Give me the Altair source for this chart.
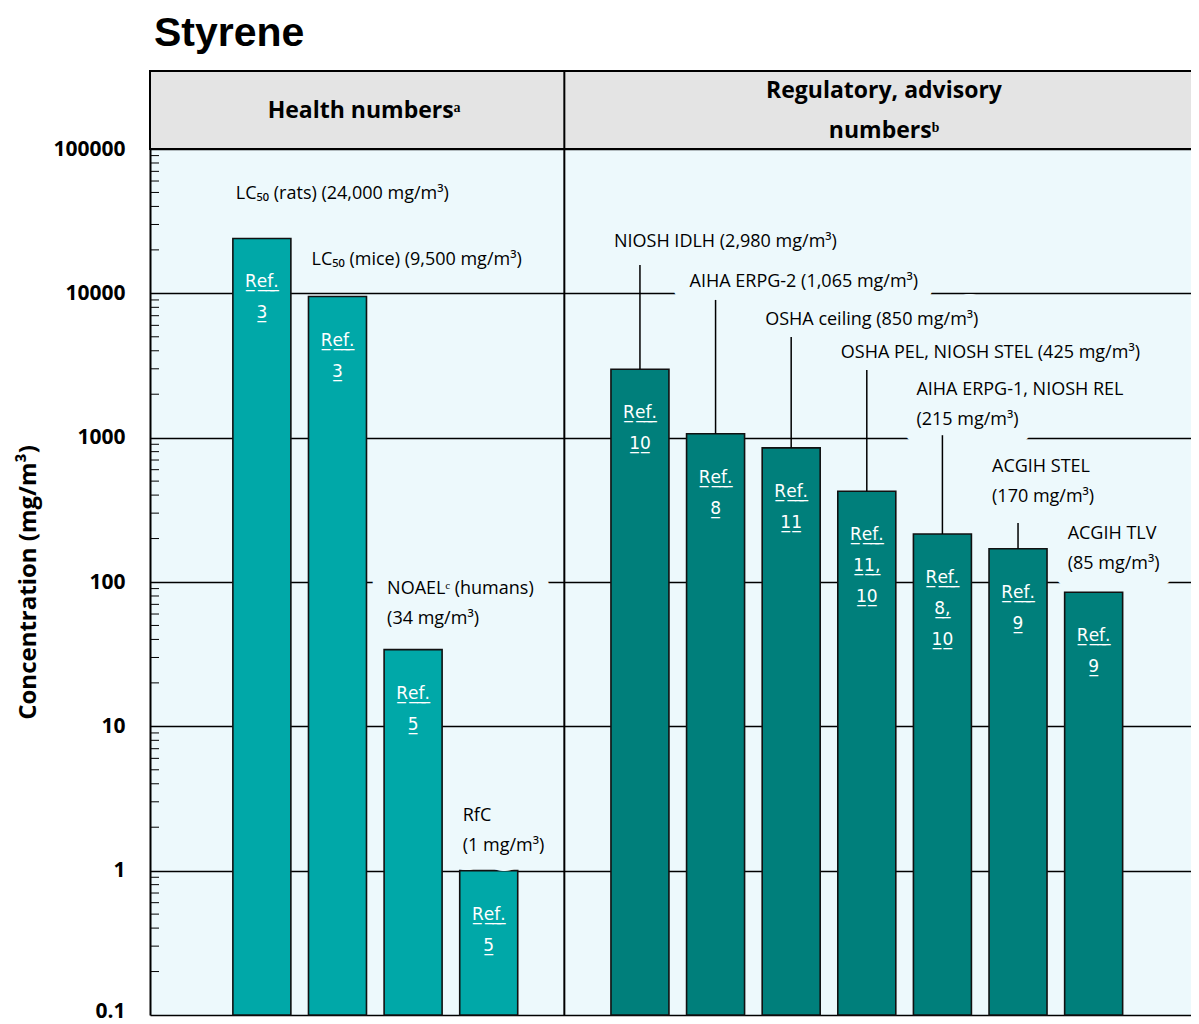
import altair as alt
import pandas as pd

# ---------------- data ----------------
categories = ["LC50 rats", "LC50 mice", "NOAEL humans", "RfC",
              "NIOSH IDLH", "AIHA ERPG-2", "OSHA ceiling", "OSHA PEL / NIOSH STEL",
              "AIHA ERPG-1 / NIOSH REL", "ACGIH STEL", "ACGIH TLV"]
groups = ["Health"] * 4 + ["Regulatory"] * 7
values = [24000, 9500, 34, 1, 2980, 1065, 850, 425, 215, 170, 85]
refs = ["3", "3", "5", "5", "10", "8", "11", "11,\n10", "8,\n10", "9", "9"]
labels = ["LC₅₀ (rats) (24,000 mg/m³)",
          "LC₅₀ (mice) (9,500 mg/m³)",
          "NOAELᶜ (humans)\n(34 mg/m³)",
          "RfC\n(1 mg/m³)",
          "NIOSH IDLH (2,980 mg/m³)",
          "AIHA ERPG-2 (1,065 mg/m³)",
          "OSHA ceiling (850 mg/m³)",
          "OSHA PEL, NIOSH STEL (425 mg/m³)",
          "AIHA ERPG-1, NIOSH REL\n(215 mg/m³)",
          "ACGIH STEL\n(170 mg/m³)",
          "ACGIH TLV\n(85 mg/m³)"]
header_titles = ["Health numbersᵃ", "Regulatory, advisory\nnumbersᵇ"]
y_ticks = [0.1, 1, 10, 100, 1000, 10000, 100000]

# ---------------- annotation anchors (on the mg/m3 axis) ----------------
label_at = [44700, 15800, 82, 2.2, 20800, 11000, 6000, 3540, 1960, 574, 197]
leader_to = [None, None, None, None, 15700, 9000, 4980, 2940, 1040, 256, None]
minor_ticks = [m * 10.0 ** k for k in range(-1, 5) for m in range(2, 10)]

SEP = "|"
slots = categories[:4] + [SEP] + categories[4:]


def underline(s):
    return "\n".join("".join(ch + "\u0332" for ch in line) for line in s.split("\n"))


df = pd.DataFrame({
    "cat": categories,
    "group": groups,
    "value": values,
    "ref": [underline("Ref.\n" + r) for r in refs],
    "label": labels,
    "label_at": label_at,
    "leader_to": leader_to,
})

W, H, HEAD = 1041, 866, 78
BG = "#edf9fc"
FONT = "Open Sans"

yscale = alt.Scale(type="log", domain=[0.1, 100000], nice=False)
YAX = alt.Axis(values=y_ticks, format=".1~f",
               title="Concentration (mg/m³)",
               grid=True, gridColor="black", gridWidth=1.6,
               ticks=False, tickSize=0,
               domain=True, domainColor="black", domainWidth=2,
               labelPadding=25, labelFont=FONT, labelFontSize=21,
               labelFontWeight="bold", labelColor="black",
               labelOffset={"condition": {"test": "datum.value < 0.5", "value": -4},
                            "value": 0},
               titleFont=FONT, titleFontSize=24, titleFontWeight="bold",
               titleColor="black", titlePadding=12)
xscale = alt.Scale(type="band", domain=slots, paddingInner=0.233,
                   paddingOuter=1.0, align=0.548)
X = alt.X("cat:N", scale=xscale, axis=None)
X0 = alt.X("cat:N", scale=xscale, axis=None, bandPosition=0)


def Y(field):
    return alt.Y(field, scale=yscale, axis=YAX)


base = alt.Chart(df)

header = alt.Chart(pd.DataFrame({"k": [0]})).mark_rect(
    fill="#e4e4e4", stroke="black", strokeWidth=2
).encode(x=alt.value(0), x2=alt.value(W + 10), y=alt.value(-HEAD), y2=alt.value(0))

bars = base.mark_bar(stroke="#111111", strokeWidth=1.6).encode(
    x=X,
    y=Y("value:Q"),
    y2=alt.datum(0.1),
    color=alt.Color("group:N", legend=None,
                    scale=alt.Scale(domain=["Health", "Regulatory"],
                                    range=["#00a8a8", "#007f7b"])),
)

ref_text = base.mark_text(
    align="center", baseline="alphabetic", dy=49, font="DejaVu Sans",
    fontSize=17, color="white", lineBreak="\n", lineHeight=31
).encode(x=X, y=Y("value:Q"), text="ref:N")

leaders = base.transform_filter("isValid(datum.leader_to)").mark_rule(
    color="black", strokeWidth=1.5
).encode(x=X, y=Y("value:Q"), y2="leader_to:Q")

label_props = dict(align="left", baseline="alphabetic", dx=3, font=FONT,
                   fontSize=18, lineBreak="\n", lineHeight=30)
halo = base.mark_text(color=BG, stroke=BG, strokeWidth=32, strokeJoin="round",
                      **label_props).encode(
    x=X0, y=Y("label_at:Q"), text="label:N")
label_text = base.mark_text(color="black", **label_props).encode(
    x=X0, y=Y("label_at:Q"), text="label:N")

ticks = alt.Chart(pd.DataFrame({"t": minor_ticks})).mark_rule(
    color="black", strokeWidth=1
).encode(x=alt.value(0), x2=alt.value(9), y=Y("t:Q"))

divider = alt.Chart(pd.DataFrame({"cat": [SEP]})).mark_rule(
    color="black", strokeWidth=2
).encode(x=X, y=alt.value(-HEAD), y2=alt.value(H))

head1 = alt.Chart(pd.DataFrame({"t": [header_titles[0]]})).mark_text(
    font=FONT, fontSize=23, fontWeight="bold", align="center", baseline="middle",
    color="black"
).encode(x=alt.value(214), y=alt.value(-38), text="t:N")
head2 = alt.Chart(pd.DataFrame({"t": [header_titles[1]]})).mark_text(
    font=FONT, fontSize=23, fontWeight="bold", align="center", baseline="alphabetic",
    color="black", lineBreak="\n", lineHeight=40
).encode(x=alt.value(734), y=alt.value(-51), text="t:N")

chart = alt.layer(
    header, bars, ref_text, halo, leaders, label_text, ticks, divider, head1, head2
).properties(
    width=W, height=H,
    title=alt.TitleParams("Styrene", anchor="start", frame="group",
                          font="Liberation Sans", fontSize=41, fontWeight="bold",
                          color="black", offset=15, dx=4),
    autosize=alt.AutoSizeParams(type="none"),
    padding={"left": 142, "top": 141, "right": 0, "bottom": 9},
).configure_view(fill=BG, stroke="transparent")

chart.save("out.html", embed_options={"renderer": "svg", "actions": False})
